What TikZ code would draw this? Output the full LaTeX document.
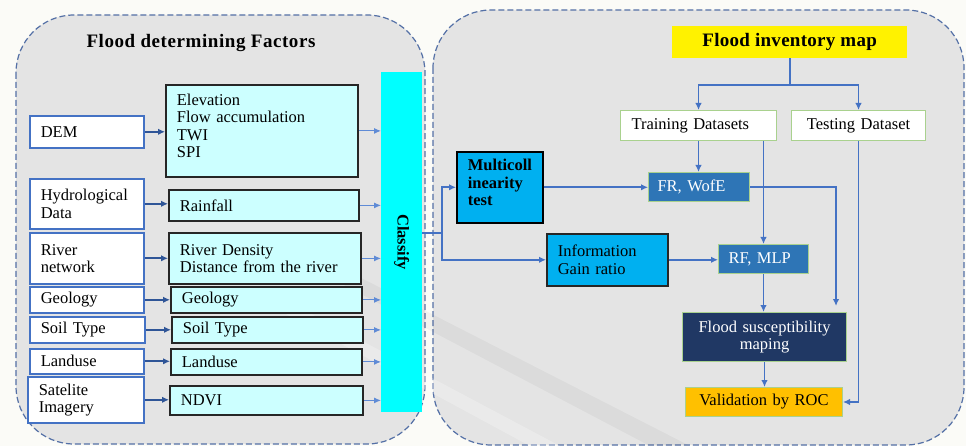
\documentclass[tikz,border=0pt]{standalone}
\usepackage{fontspec}
\setmainfont{Liberation Serif}
\usetikzlibrary{arrows.meta,calc}
\definecolor{bgout}{RGB}{251,251,247}
\definecolor{panelfill}{RGB}{228,228,228}
\definecolor{paneldraw}{RGB}{84,112,166}
\definecolor{lblue}{RGB}{68,114,196}
\definecolor{dblue}{RGB}{47,85,151}
\definecolor{ltarr}{RGB}{95,139,214}
\definecolor{lcyan}{RGB}{204,255,255}
\definecolor{cyanbar}{RGB}{0,255,255}
\definecolor{skyb}{RGB}{0,176,240}
\definecolor{medb}{RGB}{46,117,182}
\definecolor{navyb}{RGB}{32,56,100}
\definecolor{amber}{RGB}{255,192,0}
\definecolor{lgreen}{RGB}{169,209,142}
\begin{document}
\begin{tikzpicture}[x=1pt,y=-1pt,
  font=\fontsize{16.5}{17.3}\selectfont,
  every node/.style={anchor=north west, inner ysep=0pt, inner xsep=11pt},
  lbox/.style={draw=lblue, line width=1.6pt, fill=white, align=left},
  mbox/.style={draw=black!85, line width=1.8pt, fill=lcyan, align=left},
  gbox/.style={draw=lgreen, line width=1pt},
  panel/.style={draw=paneldraw, dashed, dash pattern=on 6pt off 3pt, line width=1.2pt, fill=panelfill, rounded corners=58pt},
  darr/.style={draw=dblue, line width=1.9pt, -{Latex[length=7pt,width=6.5pt]}},
  larr/.style={draw=ltarr, line width=1pt, -{Latex[length=7pt,width=6pt]}},
  rarr/.style={draw=lblue, line width=1.9pt, -{Latex[length=7pt,width=6.5pt]}},
  rline/.style={draw=lblue, line width=1.9pt}]
\useasboundingbox (0,0) rectangle (966,446);
\fill[bgout] (0,0) rectangle (966,446);
% panels
\draw[panel] (16,15) rectangle (425,444);
\draw[panel] (433,10) rectangle (964,445);
% faint watermark bands
\fill[black, opacity=0.035] (300,262) -- (330,262) -- (690,446) -- (650,446) -- cycle;
\fill[white, opacity=0.25] (260,300) -- (285,300) -- (560,446) -- (530,446) -- cycle;
\node[anchor=center, font=\fontsize{19}{20}\selectfont\bfseries\addfontfeature{LetterSpace=3}] (t1) at (201,43) {Flood determining Factors};
% left column
\node[lbox, text width=92pt, minimum height=32pt] (dem) at (29,115) {DEM};
\node[lbox, text width=92pt, minimum height=50pt] (hyd) at (29,178) {Hydrological\\Data};
\node[lbox, text width=92pt, minimum height=51pt] (riv) at (29,232) {River\\network};
\node[lbox, text width=92pt, minimum height=26pt] (geo) at (29,286) {Geology};
\node[lbox, text width=93pt, minimum height=26pt] (soil) at (29,316) {Soil Type};
\node[lbox, text width=92pt, minimum height=25pt] (land) at (29,348) {Landuse};
\node[lbox, text width=94pt, minimum height=46pt] (sat) at (27,376) {Satelite\\Imagery};
% middle column
\node[mbox, text width=170pt, minimum height=92pt] (elev) at (165,84) {Elevation\\Flow accumulation\\TWI\\SPI\\[-7pt]\rule{0pt}{0pt}};
\node[mbox, text width=168pt, minimum height=31pt] (rain) at (168,189) {Rainfall};
\node[mbox, text width=170pt, minimum height=51pt] (rden) at (168,232) {River Density\\Distance from the river};
\node[mbox, text width=169pt, minimum height=26pt] (geo2) at (170,286) {Geology};
\node[mbox, text width=169pt, minimum height=26pt] (soil2) at (171,316) {Soil Type};
\node[mbox, text width=169pt, minimum height=26pt] (land2) at (170,348) {Landuse};
\node[mbox, text width=171pt, minimum height=29pt] (ndvi) at (169,385) {NDVI};
% classify
\node[fill=cyanbar, inner xsep=0pt, minimum width=41pt, minimum height=340pt] (cls) at (381,72) {\rotatebox{-90}{\bfseries Classify}};
% left arrows
\foreach \a/\b in {dem/elev, hyd/rain, riv/rden, geo/geo2, soil/soil2, land/land2, sat/ndvi}
  \draw[darr] (\a.east) -- (\a.east -| \b.west);
\foreach \b in {elev, rain, rden, geo2, soil2, land2, ndvi}
  \draw[larr] (\b.east) -- (\b.east -| cls.west);
% right panel
\node[fill=yellow, inner xsep=0pt, minimum width=235pt, minimum height=32pt, align=center, font=\fontsize{19}{20}\selectfont\bfseries\addfontfeature{LetterSpace=1.5}] (inv) at (672,26) {Flood inventory map};
\node[gbox, fill=white, text width=134pt, minimum height=30pt, align=left] (train) at (620,110) {Training Datasets};
\node[gbox, fill=white, inner xsep=0pt, text width=134pt, minimum height=30pt, align=center] (test) at (791,110) {Testing Dataset};
\node[draw=black, line width=1.6pt, fill=skyb, inner xsep=11pt, text width=64pt, minimum height=71pt, align=left, font=\fontsize{16.5}{17.8}\selectfont\bfseries] (multi) at (456,151) {Multicoll\\inearity\\test\\[-8pt]\rule{0pt}{0pt}};
\node[gbox, fill=medb, text=white, inner xsep=9pt, text width=83pt, minimum height=29pt, align=left] (fr) at (648,172) {FR, WofE};
\node[draw=black!85, line width=1.6pt, fill=skyb, inner xsep=11pt, text width=99pt, minimum height=52pt, align=left] (info) at (546,233) {Information\\Gain ratio};
\node[gbox, fill=medb, text=white, inner xsep=10pt, text width=70pt, minimum height=29pt, align=left] (rf) at (718,244) {RF, MLP};
\node[gbox, fill=navyb, text=white, inner xsep=0pt, text width=164pt, minimum height=49pt, align=center] (fsm) at (682,312) {Flood susceptibility\\maping};
\node[gbox, fill=amber, inner xsep=0pt, text width=157pt, minimum height=29pt, align=center] (val) at (685,387) {Validation by ROC};
% right connectors
\coordinate (split) at ($(inv.south)+(0,27)$);
\draw[rline] (inv.south) -- (split);
\draw[rarr] (split) -| (train.north);
\draw[rarr] (split) -| (test.north);
\draw[rarr] (train.south) -- (train.south |- fr.north);
\draw[rarr] (train.south -| rf.north) -- (rf.north);
\coordinate (j) at (442,233);
\draw[rline] (cls.east |- j) -- (j);
\draw[rarr] (j) |- (multi.west);
\draw[rarr] (j) |- (info.west);
\draw[rarr] (multi.east) -- (multi.east -| fr.west);
\draw[rarr] (info.east) -- (info.east -| rf.west);
\draw[rarr] (fr.east) -| ($(fsm.north east)+(-11,-6)$);
\draw[rarr] (rf.south) -- (rf.south |- fsm.north);
\draw[rarr] (fsm.south) -- (fsm.south |- val.north);
\draw[rarr] (test.south) |- (val.east);
\end{tikzpicture}
\end{document}
